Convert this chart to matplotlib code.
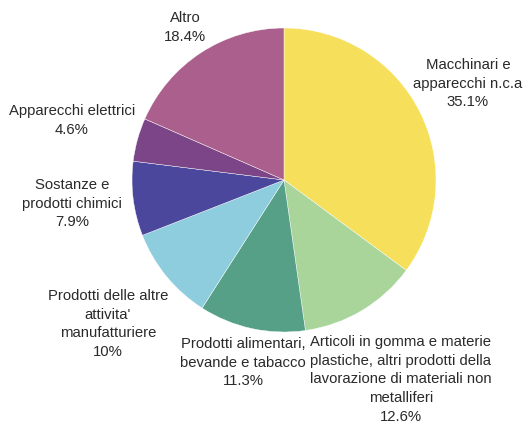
import matplotlib
matplotlib.use("Agg")
import matplotlib.pyplot as plt

categories = [
    "Macchinari e\napparecchi n.c.a",
    "Articoli in gomma e materie\nplastiche, altri prodotti della\nlavorazione di materiali non\nmetalliferi",
    "Prodotti alimentari,\nbevande e tabacco",
    "Prodotti delle altre\nattivita'\nmanufatturiere",
    "Sostanze e\nprodotti chimici",
    "Apparecchi elettrici",
    "Altro",
]
values = [35.1, 12.6, 11.3, 10, 7.9, 4.6, 18.4]
pct_labels = ["35.1%", "12.6%", "11.3%", "10%", "7.9%", "4.6%", "18.4%"]
colors = ["#F6DF5A", "#A9D59B", "#56A088", "#8DCDDD", "#4B479C", "#7B4588", "#AA5F8C"]

# label anchor (top-center of each text block), pixel coords from top-left
label_pos = [(468, 58), (401, 335), (243, 337), (108, 289), (72, 178), (72, 104), (185, 11)]

plt.rcParams['font.family'] = ['Liberation Sans', 'DejaVu Sans']

W, H = 528, 428
fig = plt.figure(figsize=(W / 100, H / 100), dpi=100)
ax = fig.add_axes([0, 0, 1, 1])

ax.pie(values, colors=colors, startangle=90, counterclock=False,
       center=(284, H - 180), radius=152,
       wedgeprops=dict(edgecolor='white', linewidth=0.3))
ax.set_xlim(0, W)
ax.set_ylim(0, H)
ax.set_aspect('equal')
ax.axis('off')

for (x, y), cat, p in zip(label_pos, categories, pct_labels):
    ax.text(x, H - y, cat + "\n" + p, ha='center', va='top', fontsize=10.7,
            color='#2a2a2a', linespacing=1.43)

fig.savefig("out.png", dpi=100)
